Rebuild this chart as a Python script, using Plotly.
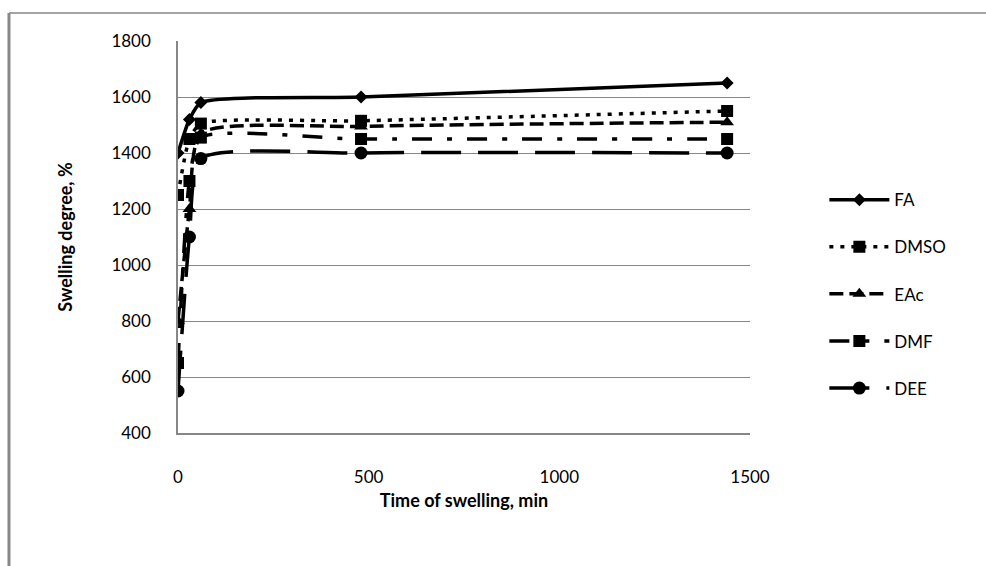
import plotly.graph_objects as go

# ---- data ----
time_min = [0, 30, 60, 480, 1440]
series_names = ["FA", "DMSO", "EAc", "DMF", "DEE"]
fa = [1400, 1520, 1580, 1600, 1650]
dmso = [1250, 1450, 1505, 1515, 1550]
eac = [800, 1200, 1470, 1495, 1510]
dmf = [650, 1300, 1455, 1450, 1450]
dee = [550, 1100, 1380, 1400, 1400]
y_ticks = [400, 600, 800, 1000, 1200, 1400, 1600, 1800]
x_ticks = [0, 500, 1000, 1500]

values = [fa, dmso, eac, dmf, dee]
dashes = ["solid", "4px,7px", "14px,6px", "20px,15px,5px,15px", "40px,17px"]
symbols = ["diamond", "square", "triangle-up", "square", "circle"]
msizes = [10, 12, 12, 12, 13]

FONT = "Lato"
GRAY = "#878787"

fig = go.Figure()
for i, (name, vals) in enumerate(zip(series_names, values)):
    fig.add_trace(go.Scatter(
        x=time_min, y=vals, name=name, mode="lines+markers",
        line=dict(color="black", width=3.5, dash=dashes[i], shape="spline", smoothing=0.6),
        marker=dict(symbol=symbols[i], size=msizes[i], color="black"),
        legendgroup=name,
    ))

fig.update_layout(
    width=986, height=566,
    margin=dict(l=178, r=236, t=41, b=133),
    paper_bgcolor="white", plot_bgcolor="white",
    font=dict(family=FONT, size=17, color="black"),
    showlegend=True,
    legend=dict(x=1.13, y=0.64, xanchor="left", yanchor="top",
                font=dict(family=FONT, size=17, color="black"),
                tracegroupgap=22, itemwidth=60, bgcolor="rgba(0,0,0,0)"),
    xaxis=dict(range=[0, 1500], tickvals=x_ticks, ticks="", showgrid=False,
               showline=True, linecolor=GRAY, linewidth=1.5, zeroline=False,
               ticklabelstandoff=28,
               title=dict(text="<b>Time of swelling, min</b>", standoff=8,
                          font=dict(family=FONT, size=18))),
    yaxis=dict(range=[400, 1800], tickvals=y_ticks, ticks="", showgrid=True,
               gridcolor=GRAY, gridwidth=1, showline=True, linecolor=GRAY,
               linewidth=1.5, zeroline=False, ticklabelstandoff=22,
               title=dict(text="<b>Swelling degree, %</b>", standoff=34,
                          font=dict(family=FONT, size=18))),
    shapes=[
        dict(type="line", xref="paper", yref="paper", x0=-0.2955, x1=-0.2955,
             y0=-0.5, y1=1.0714, line=dict(color=GRAY, width=3)),
        dict(type="line", xref="paper", yref="paper", x0=-0.2955, x1=1.5,
             y0=1.0714, y1=1.0714, line=dict(color=GRAY, width=1.5)),
    ],
)

fig.write_html("out.html")
